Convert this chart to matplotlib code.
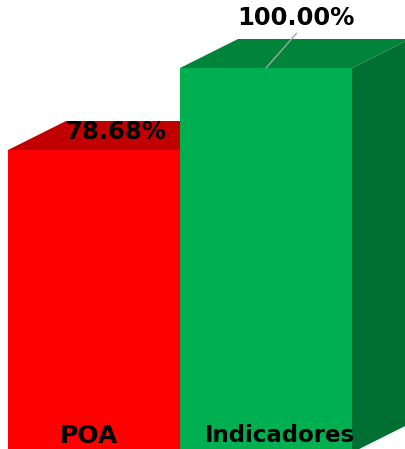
from matplotlib import pyplot as plt

categories = ['POA', 'Indicadores']
values = [78.68, 100.00]
value_labels = ['78.68%', '100.00%']

front_colors = ['#FF0000', '#00B050']
top_colors = ['#C00000', '#00843C']
side_colors = ['#A80000', '#007032']

W, H = 406, 449
BAR_PX = 172.0         # one bar width in pixels
UNIT_PX = 3.846        # one percent in pixels
ZERO_PY = 452.6        # pixel row of value 0
LEFT_PX = 8.0
DX = 58.0 / BAR_PX     # depth of the fake 3d box
DY = 29.0 / UNIT_PX

fig = plt.figure(figsize=(W / 100, H / 100), dpi=100)
ax = fig.add_axes([0, 0, 1, 1])
ax.set_xlim(-0.5 - LEFT_PX / BAR_PX, -0.5 + (W - LEFT_PX) / BAR_PX)
ax.set_ylim((ZERO_PY - H) / UNIT_PX, ZERO_PY / UNIT_PX)
ax.axis('off')

# red first so the green box covers its side face
for i, v in enumerate(values):
    l, r = i - 0.5, i + 0.5
    ax.fill([l, l + DX, r + DX, r], [v, v + DY, v + DY, v], color=top_colors[i], lw=0, zorder=i + 1)
    ax.fill([r, r + DX, r + DX, r], [0, DY, v + DY, v], color=side_colors[i], lw=0, zorder=i + 1)
    ax.bar(i, v, width=1.0, color=front_colors[i], lw=0, zorder=i + 1)

# 78.68% sits on the red top face
ax.annotate(value_labels[0], xy=(0, values[0]), xytext=(16, 13), textcoords='offset points',
            ha='center', va='center', fontsize=17.5, fontweight='bold', color='black', zorder=5)
# 100.00% has a leader line to the top of the bar
ax.annotate(value_labels[1], xy=(1, values[1]), xytext=(21.6, 36),
            textcoords='offset points', ha='center', va='center',
            fontsize=17.5, fontweight='bold', color='black', zorder=5)
ax.annotate('', xy=(1, values[1]), xytext=(22, 25), textcoords='offset points',
            arrowprops=dict(arrowstyle='-', color='#A6A6A6', lw=1, shrinkA=0, shrinkB=0), zorder=5)

# category names are inside the bars, near the bottom edge
ax.annotate(categories[0], xy=(0, 0), xytext=(-3.6, 12), textcoords='offset points',
            ha='center', va='center', fontsize=18, fontweight='bold', color='black',
            zorder=5, annotation_clip=False)
ax.annotate(categories[1], xy=(1, 0), xytext=(10, 12), textcoords='offset points',
            ha='center', va='center', fontsize=16.5, fontweight='bold', color='black',
            zorder=5, annotation_clip=False)

fig.savefig('out.png', dpi=100)
